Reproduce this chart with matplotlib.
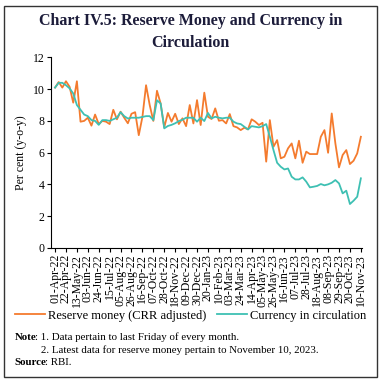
import matplotlib
matplotlib.use("Agg")
import matplotlib.pyplot as plt
from matplotlib.patches import Rectangle

# Weekly y-o-y growth, 01-Apr-22 to 10-Nov-23
reserve_money = [
    10.1, 10.45, 10.1, 10.5, 10.15, 9.15, 10.5, 7.95, 8.0, 8.2,
    7.7, 8.4, 7.8, 8.0, 7.95, 7.8, 8.7, 8.1, 8.58, 8.2,
    7.85, 8.45, 8.55, 7.1, 8.25, 10.25, 9.0, 8.0, 9.9, 9.1,
    7.6, 8.5, 7.95, 8.45,
    7.8, 8.16, 7.67, 9.0, 7.84, 9.31, 7.74, 9.78, 8.26, 8.12,
    8.79, 8.01, 8.05, 7.84, 8.43, 7.67, 7.59, 7.42, 7.57, 7.47,
    8.1, 7.95, 7.74, 7.88, 5.43, 8.05, 6.37, 6.79, 5.64, 5.74,
    6.27, 6.58, 5.64, 6.75, 5.36, 6.06, 5.91, 5.91, 5.91, 7.0,
    7.42, 5.99, 8.47, 6.58, 5.07, 5.85, 6.16, 5.28, 5.49, 5.95,
    7.0,
]
currency = [
    10.1, 10.4, 10.4, 10.25, 10.05, 9.73, 9.0, 8.7, 8.4, 8.3,
    8.05, 8.0, 7.75, 8.05, 8.05, 8.0, 8.1, 8.2, 8.55, 8.3,
    8.15, 8.2, 8.2, 8.2, 8.25, 8.3, 8.3, 8.05, 9.3, 9.1,
    7.53, 7.68, 7.75, 7.85,
    7.99, 8.07, 8.2, 8.2, 8.2, 7.95, 8.2, 7.99, 8.5, 8.16,
    8.26, 8.2, 8.16, 8.2, 8.2, 7.95, 7.84, 7.8, 7.63, 7.46,
    7.67, 7.63, 7.59, 7.67, 7.8, 7.0, 6.16, 5.36, 5.11, 4.94,
    5.0, 4.48, 4.31, 4.31, 4.44, 4.17, 3.81, 3.85, 3.9, 4.02,
    3.94, 4.0, 4.1, 4.27, 4.06, 3.43, 3.6, 2.76, 2.97, 3.22,
    4.38,
]
tick_labels = [
    "01-Apr-22", "22-Apr-22", "13-May-22", "03-Jun-22", "24-Jun-22",
    "15-Jul-22", "05-Aug-22", "26-Aug-22", "16-Sep-22", "07-Oct-22",
    "28-Oct-22", "18-Nov-22", "09-Dec-22", "30-Dec-22", "20-Jan-23",
    "10-Feb-23", "03-Mar-23", "24-Mar-23", "14-Apr-23", "05-May-23",
    "26-May-23", "16-Jun-23", "07-Jul-23", "28-Jul-23", "18-Aug-23",
    "08-Sep-23", "29-Sep-23", "20-Oct-23", "10-Nov-23",
]

plt.rcParams["font.family"] = ["Liberation Serif", "DejaVu Serif"]

orange = "#F47B2E"
teal = "#3EC0B3"
navy = "#1c1c3a"

fig = plt.figure(figsize=(3.81, 3.83), dpi=100)
ax = fig.add_axes([0.133, 0.353, 0.817, 0.497])

weeks = list(range(len(reserve_money)))
ax.plot(weeks, reserve_money, color=orange, lw=1.3, label="Reserve money (CRR adjusted)")
ax.plot(weeks, currency, color=teal, lw=1.3, label="Currency in circulation")

ax.set_ylim(0, 12)
ax.set_yticks(range(0, 13, 2))
ax.set_xlim(-1.2, 84.3)
ax.set_xticks(range(0, 85, 3))
ax.set_xticklabels(tick_labels, rotation=90)
ax.tick_params(axis="both", labelsize=8.5, length=3, width=0.8, pad=1.5)
ax.set_ylabel("Per cent (y-o-y)", fontsize=8.5, labelpad=4)

for side in ["top", "right"]:
    ax.spines[side].set_visible(False)
for side in ["left", "bottom"]:
    ax.spines[side].set_linewidth(0.8)

fig.text(0.5, 0.945, "Chart IV.5: Reserve Money and Currency in", ha="center",
         va="center", fontsize=11.5, fontweight="bold", color=navy)
fig.text(0.5, 0.889, "Circulation", ha="center", va="center",
         fontsize=11.5, fontweight="bold", color=navy)

fig.legend(loc="center", bbox_to_anchor=(0.5, 0.176), ncol=2, frameon=False,
           fontsize=9, handlelength=2.4, handletextpad=0.3, columnspacing=0.8,
           borderaxespad=0)

# notes: bold lead word followed by normal text
fs_note = 7.8
fig.canvas.draw()
renderer = fig.canvas.get_renderer()


def lead_line(x, y, bold, rest):
    t = fig.text(x, y, bold, fontsize=fs_note, fontweight="bold", va="baseline")
    bb = t.get_window_extent(renderer)
    x2 = (bb.x1 - 1.5) / fig.bbox.width
    fig.text(x2, y, rest, fontsize=fs_note, va="baseline")


lead_line(0.039, 0.112, "Note", ": 1. Data pertain to last Friday of every month.")
fig.text(0.107, 0.079, "2. Latest data for reserve money pertain to November 10, 2023.",
         fontsize=fs_note, va="baseline")
lead_line(0.039, 0.047, "Source", ": RBI.")

# outer frame
fig.patches.append(Rectangle((4 / 381, 6 / 383), 373 / 381, 371 / 383,
                             transform=fig.transFigure, fill=False,
                             edgecolor="#333333", lw=1.0))

fig.savefig("out.png", dpi=100)
